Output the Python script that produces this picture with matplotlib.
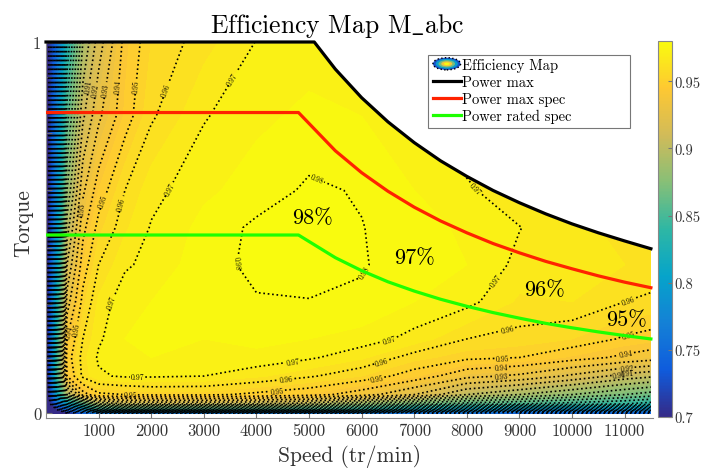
import numpy as np
import matplotlib
matplotlib.use("Agg")
import matplotlib.pyplot as plt
from matplotlib.colors import LinearSegmentedColormap, Normalize
from matplotlib.cm import ScalarMappable
from matplotlib.patches import Ellipse, Patch, Rectangle
from matplotlib.legend_handler import HandlerBase

plt.rcParams['font.family'] = ['cmr10', 'DejaVu Serif']
plt.rcParams['mathtext.fontset'] = 'cm'
plt.rcParams['axes.formatter.use_mathtext'] = True

# grille vitesse / couple de la carte de rendement
speeds = [0, 50, 200, 400, 700, 1000, 1500, 2000, 3000, 4000, 5000, 6000, 7000, 8000, 9000, 10000, 11000, 11500]
torques = [0, 0.01, 0.025, 0.05, 0.1, 0.15, 0.2, 0.3, 0.4, 0.5, 0.6, 0.8, 1.0]

eff_t000 = [0.68, 0.69, 0.69, 0.70, 0.74, 0.76, 0.76, 0.76, 0.76, 0.76, 0.76, 0.76, 0.75, 0.75, 0.74, 0.74, 0.74, 0.74]
eff_t001 = [0.68, 0.69, 0.70, 0.74, 0.78, 0.83, 0.84, 0.84, 0.84, 0.84, 0.84, 0.83, 0.81, 0.80, 0.79, 0.79, 0.79, 0.78]
eff_t0025 = [0.68, 0.69, 0.74, 0.80, 0.85, 0.89, 0.90, 0.90, 0.90, 0.90, 0.895, 0.88, 0.865, 0.855, 0.85, 0.845, 0.84, 0.835]
eff_t005 = [0.68, 0.70, 0.80, 0.89, 0.935, 0.948, 0.95, 0.952, 0.952, 0.948, 0.944, 0.935, 0.92, 0.90, 0.89, 0.88, 0.87, 0.865]
eff_t010 = [0.68, 0.71, 0.84, 0.94, 0.962, 0.969, 0.971, 0.971, 0.970, 0.966, 0.961, 0.955, 0.946, 0.933, 0.928, 0.918, 0.906, 0.902]
eff_t015 = [0.68, 0.71, 0.84, 0.945, 0.963, 0.971, 0.974, 0.975, 0.973, 0.974, 0.971, 0.966, 0.957, 0.952, 0.95, 0.944, 0.938, 0.935]
eff_t020 = [0.68, 0.71, 0.83, 0.94, 0.96, 0.969, 0.975, 0.976, 0.975, 0.976, 0.975, 0.973, 0.968, 0.96, 0.958, 0.955, 0.949, 0.947]
eff_t030 = [0.68, 0.71, 0.82, 0.925, 0.953, 0.966, 0.974, 0.975, 0.977, 0.9795, 0.9798, 0.979, 0.975, 0.972, 0.964, 0.965, 0.96, 0.959]
eff_t040 = [0.68, 0.71, 0.80, 0.91, 0.945, 0.96, 0.969, 0.972, 0.9775, 0.9815, 0.982, 0.9805, 0.977, 0.975, 0.9685, 0.967, 0.965, 0.963]
eff_t050 = [0.68, 0.70, 0.79, 0.895, 0.937, 0.953, 0.964, 0.9705, 0.9765, 0.9812, 0.982, 0.9802, 0.977, 0.974, 0.9702, 0.966, 0.964, 0.962]
eff_t060 = [0.68, 0.70, 0.78, 0.88, 0.928, 0.945, 0.96, 0.968, 0.974, 0.977, 0.981, 0.9795, 0.975, 0.971, 0.966, 0.962, 0.96, 0.958]
eff_t080 = [0.68, 0.70, 0.77, 0.855, 0.908, 0.928, 0.946, 0.959, 0.9695, 0.974, 0.976, 0.975, 0.972, 0.965, 0.96, 0.956, 0.955, 0.953]
eff_t100 = [0.68, 0.70, 0.75, 0.83, 0.89, 0.915, 0.943, 0.955, 0.963, 0.9702, 0.973, 0.972, 0.97, 0.963, 0.955, 0.95, 0.95, 0.948]

# courbes de puissance
pmax_speed = [0, 5100, 5500, 6000, 6500, 7000, 7500, 8000, 8500, 9000, 9500, 10000, 10500, 11000, 11500]
pmax_torque = [1, 1, 0.927, 0.85, 0.785, 0.729, 0.68, 0.638, 0.6, 0.567, 0.537, 0.51, 0.486, 0.464, 0.443]
spec_speed = [0, 4800, 5500, 6000, 6500, 7000, 7500, 8000, 8500, 9000, 9500, 10000, 10500, 11000, 11500]
pmax_spec_torque = [0.81, 0.81, 0.707, 0.648, 0.598, 0.555, 0.518, 0.486, 0.457, 0.432, 0.409, 0.389, 0.370, 0.353, 0.338]
prated_spec_torque = [0.48, 0.48, 0.419, 0.384, 0.354, 0.329, 0.307, 0.288, 0.271, 0.256, 0.242, 0.23, 0.219, 0.209, 0.2]

pct_labels = ["98%", "97%", "96%", "95%"]
pct_speed = [5075, 7010, 9480, 11040]
pct_torque = [0.527, 0.419, 0.333, 0.253]

xticks = [1000, 2000, 3000, 4000, 5000, 6000, 7000, 8000, 9000, 10000, 11000]
yticks_minor = [0.146, 0.294, 0.445, 0.602, 0.755, 0.907]
cbar_ticks = [0.7, 0.75, 0.8, 0.85, 0.9, 0.95]

# ou placer les etiquettes des iso-rendements (vitesse, couple)
label_pos = [
    (3600, 0.406), (6310, 0.36), (5170, 0.637),
    (3500, 0.905), (2270, 0.61), (1220, 0.30), (1740, 0.086), (4700, 0.132),
    (6540, 0.194), (8620, 0.352), (8110, 0.60),
    (2290, 0.87), (1370, 0.567), (650, 0.226), (1600, 0.056), (4580, 0.086),
    (6410, 0.126), (8810, 0.204), (11090, 0.30),
    (1760, 0.88), (1030, 0.575), (460, 0.218), (4390, 0.07), (6290, 0.091),
    (8680, 0.145), (11090, 0.2),
    (1440, 0.88), (750, 0.55), (8660, 0.113), (11040, 0.153),
    (1190, 0.87), (8660, 0.095), (11040, 0.13),
    (1000, 0.87), (11040, 0.117),
    (850, 0.88), (11040, 0.105),
]

parula = LinearSegmentedColormap.from_list(
    "parula", ['#352a87', '#0f5cdd', '#1481d6', '#06a4ca', '#2eb7a4',
               '#87bf77', '#d1bb59', '#fec832', '#f9fb0e'])


class MapHandler(HandlerBase):
    # petite icone de carte (ellipses concentriques) pour la legende
    def create_artists(self, legend, orig, xd, yd, w, h, fontsize, trans):
        cx, cy = xd + w / 2.0, yd + h / 2.0
        out = []
        for k, c in enumerate([0.1, 0.35, 0.6, 0.85, 1.0]):
            f = 1 - 0.2 * k
            out.append(Ellipse((cx, cy), w * f, h * 1.2 * f, facecolor=parula(c),
                               edgecolor='none', transform=trans))
        out.append(Ellipse((cx, cy), w, h * 1.2, facecolor='none', edgecolor='k',
                           linestyle=':', lw=1, transform=trans))
        return out


eff = np.array([eff_t000, eff_t001, eff_t0025, eff_t005, eff_t010, eff_t015, eff_t020,
                eff_t030, eff_t040, eff_t050, eff_t060, eff_t080, eff_t100])
X, Y = np.meshgrid(speeds, torques)

fig = plt.figure(figsize=(7.02, 4.77), dpi=100)
ax = fig.add_axes([46 / 702, 1 - 419 / 477, 607 / 702, 376 / 477])

norm = Normalize(0.7, 0.98)
ax.contourf(X, Y, eff, levels=np.linspace(0.70, 0.98, 57), cmap=parula, norm=norm,
            extend='both', zorder=1)
lev_low = np.round(np.arange(0.70, 0.905, 0.01), 2)
lev_high = np.round(np.arange(0.91, 0.985, 0.01), 2)
ax.contour(X, Y, eff, levels=lev_low, colors='k', linestyles=':', linewidths=1.2, zorder=2)
cs = ax.contour(X, Y, eff, levels=lev_high, colors='k', linestyles=':', linewidths=1.2, zorder=2)
ax.clabel(cs, manual=label_pos, fontsize=5.5, fmt='%.2f', inline=True, inline_spacing=1)

# blanc au-dessus de l'enveloppe
ax.fill_between(pmax_speed, pmax_torque, 1.2, color='white', zorder=3.2)

l1, = ax.plot(pmax_speed, pmax_torque, color='k', lw=2.3, zorder=5, clip_on=False)
l2, = ax.plot(spec_speed, pmax_spec_torque, color='#ff2200', lw=2.3, zorder=5)
l3, = ax.plot(spec_speed, prated_spec_torque, color='#1eff00', lw=2.3, zorder=5)

for s, sp, tq in zip(pct_labels, pct_speed, pct_torque):
    ax.text(sp, tq, s, fontsize=16, ha='center', va='center', zorder=6)

ax.set_xlim(0, 11540)
ax.set_ylim(-0.013, 1.0)
ax.set_xticks(xticks)
ax.set_xticklabels([str(t) for t in xticks])
ax.set_yticks([0, 1])
ax.set_yticklabels(['0', '1'])
ax.set_yticks(yticks_minor, minor=True)
ax.tick_params(which='both', direction='in', colors='#777777', labelcolor='#333333', labelsize=12)
ax.tick_params(which='major', length=4)
ax.tick_params(which='minor', length=4)
for sp in ['top', 'right']:
    ax.spines[sp].set_visible(False)
for sp in ['left', 'bottom']:
    ax.spines[sp].set_color('#888888')
    ax.spines[sp].set_linewidth(0.8)

ax.set_xlabel("Speed (tr/min)", fontsize=15.5, color='#333333')
ax.set_ylabel("Torque", fontsize=15.5, color='#333333')
ax.yaxis.set_label_coords(-0.021, 0.52)
fig.text(337 / 702, 1 - 26 / 477, r"Efficiency Map M$\_$abc", fontsize=18.5, ha='center', va='center')

# cadre de legende (plus large que son contenu, comme sur l'original)
ax.add_patch(Rectangle((428 / 702, 1 - 129 / 477), 202 / 702, 73 / 477, transform=fig.transFigure,
                       facecolor='white', edgecolor='#777777', lw=0.8, zorder=9, clip_on=False))
proxy = Patch()
leg = ax.legend([proxy, l1, l2, l3], ["Efficiency Map", "Power max", "Power max spec", "Power rated spec"],
                handler_map={proxy: MapHandler()}, loc='upper left',
                bbox_to_anchor=(430 / 702, 1 - 56 / 477), bbox_transform=fig.transFigure,
                borderaxespad=0, fontsize=10.5, handlelength=1.9, handletextpad=0.1,
                labelspacing=0.22, borderpad=0.2, frameon=False)
leg.set_zorder(10)

cax = fig.add_axes([658 / 702, 1 - 418 / 477, 14 / 702, 376 / 477])
cb = fig.colorbar(ScalarMappable(norm=norm, cmap=parula), cax=cax)
cb.set_ticks(cbar_ticks)
cb.set_ticklabels(['0.7', '0.75', '0.8', '0.85', '0.9', '0.95'])
cb.ax.tick_params(direction='in', length=3, pad=2, colors='#777777', labelcolor='#333333', labelsize=10.5)
cb.outline.set_edgecolor('#888888')
cb.outline.set_linewidth(0.8)

fig.savefig("out.png", dpi=100)
